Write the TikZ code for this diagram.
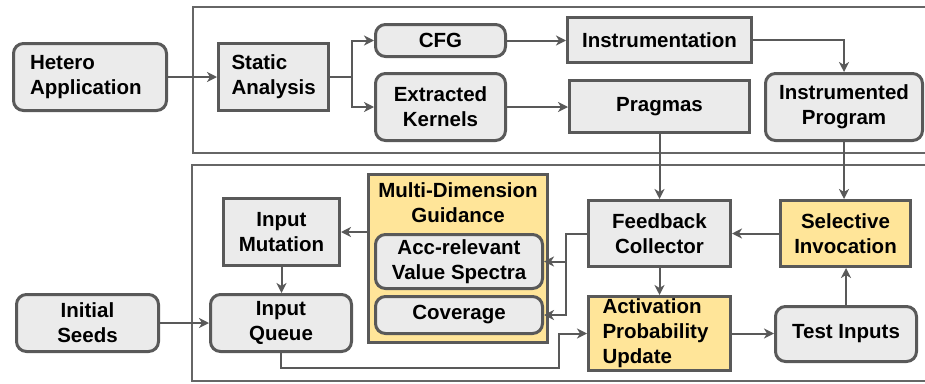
\documentclass[tikz,border=0pt]{standalone}
\usepackage{fontspec}
\setmainfont{Liberation Sans}
\usetikzlibrary{arrows.meta}
\definecolor{bordc}{HTML}{595959}
\definecolor{framec}{HTML}{666666}
\definecolor{boxgray}{HTML}{EBEBEB}
\definecolor{boxyellow}{HTML}{FFE599}
\begin{document}
\begin{tikzpicture}[x=1pt,y=-1pt,
  base/.style={draw=bordc, line width=3pt, fill=boxgray, inner sep=0pt, align=center,
    font=\fontsize{20.5}{25}\selectfont\bfseries},
  sbox/.style={base},
  rbox/.style={base, rounded corners=10pt},
  ybox/.style={base, fill=boxyellow},
  arr/.style={draw=bordc, line width=2pt, -{Stealth[length=10pt,width=10pt,inset=3pt]}},
  frame/.style={draw=framec, line width=2pt},
  plain/.style={inner sep=0pt, align=center, font=\fontsize{20.5}{25}\selectfont\bfseries}
]
\clip (0,0) rectangle (925,383);
\fill[white] (0,0) rectangle (925,383);
% frames
\draw[frame] (193,7) rectangle (945,153);
\draw[frame] (192,165) rectangle (945,381);
% top row
\node[rbox, minimum width=153pt, minimum height=67pt, text width=120pt, align=left] (hetero) at (90,77) {Hetero\\Application};
\node[sbox, minimum width=110pt, minimum height=67pt, text width=84pt, align=left] (static) at (273.5,77) {Static\\Analysis};
\node[rbox, minimum width=130pt, minimum height=32pt] (cfg) at (440.5,40.5) {CFG};
\node[rbox, minimum width=130pt, minimum height=67pt] (ext) at (440.5,107) {Extracted\\Kernels};
\node[sbox, minimum width=184pt, minimum height=45pt] (instr) at (659.5,40) {Instrumentation};
\node[sbox, minimum width=180pt, minimum height=52pt] (prag) at (659.5,106.5) {Pragmas};
\node[rbox, minimum width=157pt, minimum height=67pt] (iprog) at (844,107) {Instrumented\\Program};
% bottom row
\node[ybox, minimum width=179pt, minimum height=168pt] (mdg) at (458,258.5) {};
\node[plain] (mdgt) at (458,203) {Multi-Dimension\\Guidance};
\node[rbox, minimum width=167pt, minimum height=54pt] (acc) at (459,261.5) {Acc-relevant\\Value Spectra};
\node[rbox, minimum width=167pt, minimum height=37pt] (cov) at (459,315) {Coverage};
\node[sbox, minimum width=116pt, minimum height=67pt] (mut) at (281.5,232) {Input\\Mutation};
\node[rbox, minimum width=141pt, minimum height=57pt] (queue) at (281,323) {Input\\Queue};
\node[rbox, minimum width=142pt, minimum height=57pt] (seeds) at (87.5,323) {Initial\\Seeds};
\node[sbox, minimum width=142pt, minimum height=66pt] (fb) at (659.5,233.5) {Feedback\\Collector};
\node[ybox, minimum width=130pt, minimum height=66pt] (sel) at (845.5,233.5) {Selective\\Invocation};
\node[ybox, minimum width=142pt, minimum height=74pt, text width=114pt, align=left] (act) at (659.5,333.5) {Activation\\Probability\\Update};
\node[rbox, minimum width=141pt, minimum height=55pt] (test) at (846,334) {Test Inputs};
% connectors top
\draw[arr] (hetero.east) -- (static.west);
\draw[arr] (static.east) -- ++(22,0) |- (cfg.west);
\draw[arr] (static.east) -- ++(22,0) |- (ext.west);
\draw[arr] (cfg.east) -- (cfg.east -| instr.west);
\draw[arr] (ext.east) -- (ext.east -| prag.west);
\draw[arr] (instr.east) -| (iprog.north);
\draw[arr] (prag.south) -- (fb.north);
\draw[arr] (iprog.south) -- (iprog.south |- sel.north);
% connectors bottom
\draw[arr] (sel.west) -- (fb.east);
\draw[arr] (fb.west) -- ++(-21,0) |- (acc.east);
\draw[arr] (fb.west) -- ++(-21,0) |- (cov.east);
\draw[arr] (fb.south) -- (act.north);
\draw[arr] (act.east) -- (act.east -| test.west);
\draw[arr] (test.north) -- (test.north |- sel.south);
\draw[arr] (mdg.west |- mut.east) -- (mut.east);
\draw[arr] (mut.south) -- (mut.south |- queue.north);
\draw[arr] (seeds.east) -- (queue.west);
\coordinate (qbend) at (559,368);
\draw[arr] (queue.south) |- (qbend) |- (act.west);
\end{tikzpicture}
\end{document}
